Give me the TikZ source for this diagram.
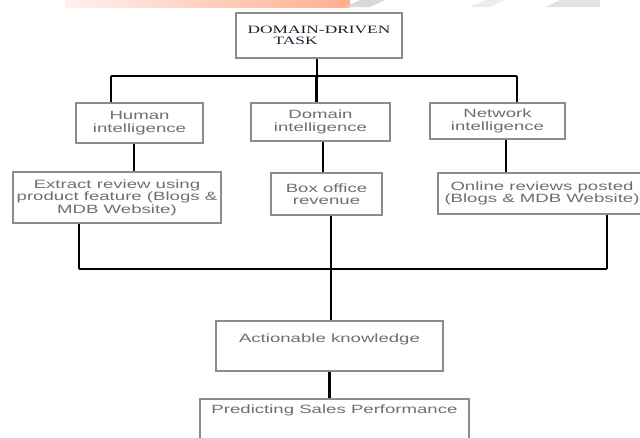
\documentclass[tikz,border=0pt]{standalone}
\usepackage{fontspec}
\usepackage{tikz}
\newfontfamily\boxfont{Liberation Sans}[FakeStretch=1.55]
\newfontfamily\taskfont{Liberation Serif}[FakeStretch=1.55]
\definecolor{boxtext}{RGB}{110,110,110}
\definecolor{boxline}{RGB}{140,140,140}
\definecolor{tasktext}{RGB}{30,30,50}

\begin{document}
\begin{tikzpicture}[x=1pt,y=-1pt,
  box/.style={draw=boxline,line width=1.1pt,inner sep=0pt,align=center,text=boxtext,
    font=\boxfont\fontsize{12}{12.5}\selectfont},
  link/.style={line width=2.4pt,black}]
\clip (0,0) rectangle (640,437);
% watermark strip at the top
\shade[left color=red!6,right color=red!40!orange!45] (65,0) rectangle (350,7);
\fill[gray!30] (345,7) -- (360,0) -- (385,0) -- (370,7) -- cycle;
\fill[gray!15] (470,7) -- (485,0) -- (505,0) -- (490,7) -- cycle;
\fill[gray!22] (545,7) -- (560,0) -- (600,0) -- (600,7) -- cycle;

\node[box,minimum width=166pt,minimum height=45pt,align=left,text=tasktext,
  font=\taskfont\fontsize{11.2}{11}\selectfont] (task) at (319,35.5)
  {DOMAIN-DRIVEN\\\hspace*{26pt}TASK};

\node[box,minimum width=127pt,minimum height=40pt] (human) at (139.5,123) {Human\\intelligence};
\node[box,minimum width=139pt,minimum height=38pt] (domain) at (320.5,122) {Domain\\intelligence};
\node[box,minimum width=135pt,minimum height=36pt] (network) at (497.5,121) {Network\\intelligence};

\node[box,minimum width=208pt,minimum height=51pt] (extract) at (117,197.5)
  {Extract review using\\product feature (Blogs \&\\MDB Website)};
\node[box,minimum width=111pt,minimum height=42pt] (boxoff) at (326.5,194) {Box office\\revenue};
\node[box,minimum width=208pt,minimum height=41pt] (online) at (542,193.5)
  {Online reviews posted\\(Blogs \& MDB Website)};

\node[box,minimum width=227pt,minimum height=50pt,text depth=15pt] (action) at (329.5,346) {Actionable knowledge};
\node[box,minimum width=269pt,minimum height=60pt,text depth=39pt] (predict) at (334.5,429) {Predicting Sales Performance};

\coordinate (topL) at (111,76);
\coordinate (topR) at (517,76);
\coordinate (botL) at (79,269);
\coordinate (botR) at (607,269);

\draw[link] (topL) -- (topR);
\draw[link] ([xshift=-2pt]task.south) -- ([xshift=-2pt]task.south |- topL);
\draw[link] (topL) -- (topL |- human.north);
\draw[link] ([xshift=-4pt]domain.north) -- ([xshift=-4pt]domain.north |- topL);
\draw[link] (topR) -- (topR |- network.north);

\draw[link] ([xshift=-5.5pt]human.south) -- ([xshift=-5.5pt]human.south |- extract.north);
\draw[link] ([xshift=2.5pt]domain.south) -- ([xshift=2.5pt]domain.south |- boxoff.north);
\draw[link] ([xshift=8.5pt]network.south) -- ([xshift=8.5pt]network.south |- online.north);

\draw[link] (botL) -- (botR);
\draw[link] (extract.south -| botL) -- (botL);
\draw[link] (online.south -| botR) -- (botR);
\draw[link] ([xshift=4.5pt]boxoff.south) -- ([xshift=4.5pt]boxoff.south |- action.north);
\draw[link] (action.south) -- (action.south |- predict.north);
\end{tikzpicture}
\end{document}
